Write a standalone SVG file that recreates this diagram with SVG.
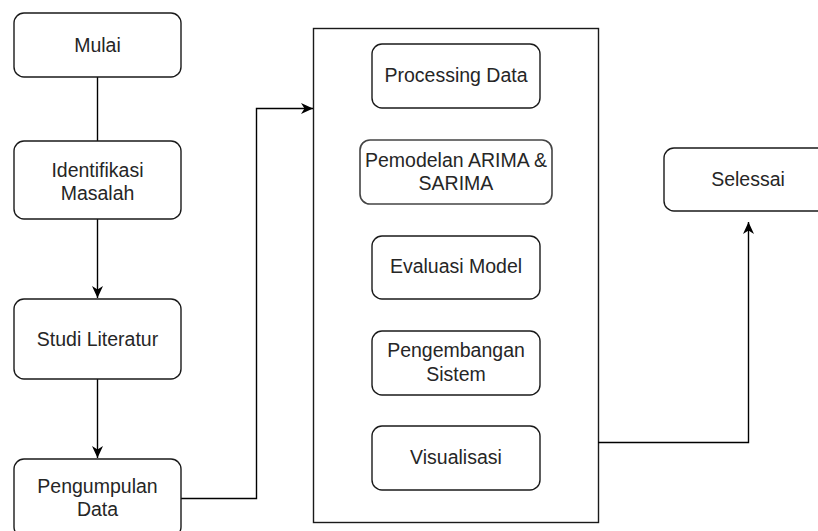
<svg xmlns="http://www.w3.org/2000/svg" width="818" height="531" viewBox="0 0 818 531">
<defs>
<style>
.box{fill:#ffffff;stroke:#1a1a1a;stroke-width:1.4}
.gray{stroke:#444444;stroke-width:1.6}
.cont{fill:#ffffff;stroke:#1a1a1a;stroke-width:1.4}
.lbl{font-family:"Liberation Sans",Arial,sans-serif;font-size:19.5px;fill:#262626;text-anchor:middle}
.edge{fill:none;stroke:#000000;stroke-width:1.4}
</style>
<marker id="arr" markerUnits="userSpaceOnUse" markerWidth="13" markerHeight="13" viewBox="0 0 13 13" refX="12" refY="6.5" orient="auto">
<path d="M0,1 L12,6.5 L0,12 L3.5,6.5 z" fill="#000000"/>
</marker>
</defs>
<rect width="818" height="531" fill="#ffffff"/>
<g id="container">
<rect class="cont" x="313.5" y="28.5" width="285" height="494"/>
</g>
<g id="connectors">
<path class="edge" d="M97.5,77 L97.5,141"/>
<path class="edge" d="M97.5,219 L97.5,298" marker-end="url(#arr)"/>
<path class="edge" d="M97.5,379 L97.5,458" marker-end="url(#arr)"/>
<path class="edge" d="M181,498.5 L256.5,498.5 L256.5,108.5 L313,108.5" marker-end="url(#arr)"/>
<path class="edge" d="M598,442.5 L748.5,442.5 L748.5,222" marker-end="url(#arr)"/>
</g>
<g id="mulai">
<rect class="box" x="14" y="13" width="167" height="64" rx="10"/>
<text class="lbl" x="97.5" y="52">Mulai</text>
</g>
<g id="identifikasi">
<rect class="box" x="14" y="141" width="167" height="78" rx="10"/>
<text class="lbl" x="97.5" y="177">Identifikasi</text>
<text class="lbl" x="97.5" y="200">Masalah</text>
</g>
<g id="studi">
<rect class="box" x="14" y="299" width="167" height="80" rx="10"/>
<text class="lbl" x="97.5" y="346">Studi Literatur</text>
</g>
<g id="pengumpulan">
<rect class="box" x="14" y="459" width="167" height="78" rx="10"/>
<text class="lbl" x="97.5" y="493">Pengumpulan</text>
<text class="lbl" x="97.5" y="516">Data</text>
</g>
<g id="processing">
<rect class="box" x="372" y="44" width="168" height="64" rx="10"/>
<text class="lbl" x="456" y="82">Processing Data</text>
</g>
<g id="pemodelan">
<rect class="box gray" x="360" y="140" width="192" height="64" rx="10"/>
<text class="lbl" x="456" y="167">Pemodelan ARIMA &amp;</text>
<text class="lbl" x="456" y="190">SARIMA</text>
</g>
<g id="evaluasi">
<rect class="box" x="372" y="236" width="168" height="63" rx="10"/>
<text class="lbl" x="456" y="273">Evaluasi Model</text>
</g>
<g id="pengembangan">
<rect class="box" x="372" y="331" width="168" height="64" rx="10"/>
<text class="lbl" x="456" y="357">Pengembangan</text>
<text class="lbl" x="456" y="381">Sistem</text>
</g>
<g id="visualisasi">
<rect class="box" x="372" y="426" width="168" height="64" rx="10"/>
<text class="lbl" x="456" y="464">Visualisasi</text>
</g>
<g id="selessai">
<rect class="box" x="664" y="148" width="168" height="63" rx="10"/>
<text class="lbl" x="748" y="186">Selessai</text>
</g>
</svg>
